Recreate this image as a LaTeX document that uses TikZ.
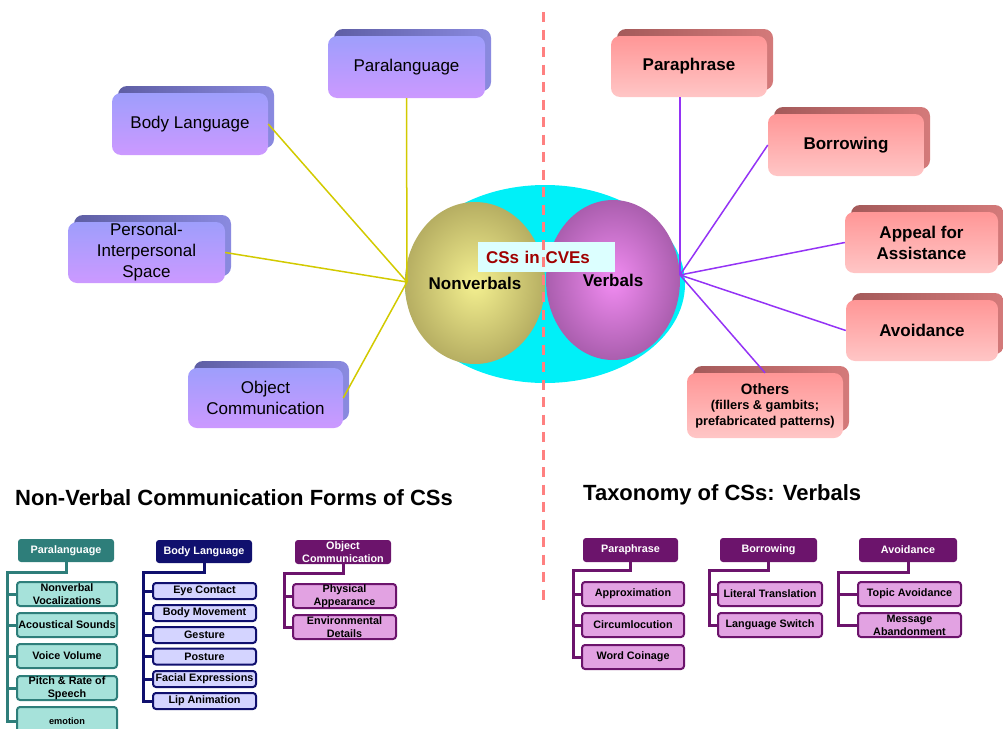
\documentclass[tikz,border=0pt]{standalone}
\usepackage{fontspec}
\setmainfont{Liberation Sans}
\usetikzlibrary{shapes.geometric}
\definecolor{lTop}{HTML}{9E9EFC}
\definecolor{lBot}{HTML}{CC99FF}
\definecolor{lDark}{HTML}{5E5EA4}
\definecolor{lSide}{HTML}{8A8AE0}
\definecolor{rTop}{HTML}{FF9696}
\definecolor{rBot}{HTML}{FFC6C6}
\definecolor{rDark}{HTML}{A45A5A}
\definecolor{rSide}{HTML}{D47A7A}
\definecolor{lLine}{HTML}{D2CA00}
\definecolor{rLine}{HTML}{9433F5}
\definecolor{cveC}{HTML}{00F0F8}
\definecolor{oliveIn}{HTML}{F4F090}
\definecolor{oliveOut}{HTML}{B6AE62}
\definecolor{plumIn}{HTML}{F28CF2}
\definecolor{plumOut}{HTML}{AA5EAE}
\definecolor{tealH}{HTML}{2E7E7A}
\definecolor{tealC}{HTML}{A6E2DA}
\definecolor{navyH}{HTML}{10106E}
\definecolor{navyC}{HTML}{D4D4FF}
\definecolor{plumH}{HTML}{6C146C}
\definecolor{plumC}{HTML}{E2A2E2}
\definecolor{dashC}{HTML}{FF8080}
\definecolor{capC}{HTML}{A00000}
\definecolor{capF}{HTML}{DCFFFF}
\tikzset{
  lback/.style={rounded corners=9pt, left color=lDark, right color=lSide, xshift=6pt, yshift=7pt},
  lfront/.style={rounded corners=9pt, top color=lTop, bottom color=lBot, align=center, inner sep=0pt,
    font=\fontsize{17}{21}\selectfont},
  rback/.style={rounded corners=9pt, left color=rDark, right color=rSide, xshift=6pt, yshift=7pt},
  rfront/.style={rounded corners=9pt, top color=rTop, bottom color=rBot, align=center, inner sep=0pt,
    font=\bfseries\fontsize{17}{21}\selectfont},
  hdr/.style={fill=#1, text=white, rounded corners=3pt, minimum width=96pt, minimum height=23pt,
    inner sep=0pt, align=center, font=\bfseries\fontsize{10.8}{12.5}\selectfont},
  kid/.style 2 args={fill=#1, draw=#2, line width=2pt, rounded corners=3pt, inner sep=0pt, align=center,
    font=\bfseries\fontsize{10.8}{13}\selectfont},
  trunk/.style={draw=#1, line width=3pt},
  headline/.style={anchor=west, inner sep=0pt, font=\bfseries\fontsize{22}{24}\selectfont}
}
\begin{document}
\begin{tikzpicture}[x=1pt,y=-1pt]
  \useasboundingbox (0,0) rectangle (1003,728);
  % centre
  \node[ellipse, fill=cveC, minimum width=280pt, minimum height=198pt] (cve) at (545,284) {};
  \node[ellipse, inner color=oliveIn, outer color=oliveOut,
    minimum width=136pt, minimum height=162pt, font=\bfseries\fontsize{17}{19}\selectfont] (nonverb) at (475,283) {Nonverbals};
  \node[ellipse, inner color=plumIn, outer color=plumOut,
    minimum width=134pt, minimum height=160pt, font=\bfseries\fontsize{17}{19}\selectfont] (verb) at (613,280) {Verbals};
  \node[fill=capF, text=capC, minimum height=30pt, inner xsep=8pt, text width=121pt, align=left,
    font=\bfseries\fontsize{17}{19}\selectfont] (csbox) at (546.5,257) {CSs in CVEs};
  \draw[dashC, line width=3pt, dash pattern=on 10pt off 7.5pt] (543.5,12) -- (543.5,605);
  % nonverbal boxes
  \foreach \nm/\x/\y/\w/\h/\txt in {lpara/406.5/67/157pt/62pt/Paralanguage,
      lbody/190/124/156pt/62pt/Body Language,
      lspace/146.5/252.5/157pt/61pt/{Personal-\\Interpersonal\\Space},
      lobj/265.5/398/155pt/60pt/{Object\\Communication}} {
    \node[lback, minimum width=\w, minimum height=\h] at (\x,\y) {};
    \node[lfront, minimum width=\w, minimum height=\h] (\nm) at (\x,\y) {\txt};
  }
  % verbal boxes
  \foreach \nm/\x/\y/\w/\h/\txt in {rpara/689/66.5/156pt/61pt/Paraphrase,
      rborr/846/145/156pt/62pt/Borrowing,
      rappeal/921.5/242.5/153pt/61pt/{Appeal for\\Assistance},
      ravoid/922/330.5/152pt/61pt/Avoidance} {
    \node[rback, minimum width=\w, minimum height=\h] at (\x,\y) {};
    \node[rfront, minimum width=\w, minimum height=\h] (\nm) at (\x,\y) {\txt};
  }
  \node[rback, minimum width=156pt, minimum height=65pt] at (765,405.5) {};
  \node[rfront, minimum width=156pt, minimum height=65pt, font=\bfseries\fontsize{12.8}{15.5}\selectfont] (rother) at (765,405.5)
    {{\fontsize{15}{15.5}\selectfont Others}\\(fillers \& gambits;\\prefabricated patterns)};
  % connectors
  \coordinate (lhub) at (407,282);
  \coordinate (rhub) at (680,275);
  \draw[lLine, line width=1.5pt] (lpara.south) -- (lhub);
  \foreach \nm in {lbody,lspace,lobj} \draw[lLine, line width=1.5pt] (\nm.east) -- (lhub);
  \draw[rLine, line width=1.5pt] (rhub |- rpara.south) -- (rhub);
  \foreach \nm in {rborr,rappeal,ravoid} \draw[rLine, line width=1.5pt] (\nm.west) -- (rhub);
  \draw[rLine, line width=1.5pt] (rother.north) -- (rhub);
  % headings
  \node[headline] (nvhead) at (15,498) {Non-Verbal Communication Forms of CSs};
  \node[headline] (vhead) at (583,495) {Taxonomy of CSs: Verbals};
  % paralanguage tree
  \node[hdr=tealH] (tpara) at (66,550.5) {Paralanguage};
  \coordinate (tparaT) at (7,572);
  \foreach \i/\y/\txt in {1/594/{Nonverbal\\Vocalizations}, 2/625/Acoustical Sounds, 3/656/Voice Volume,
      4/688/{Pitch \& Rate of\\Speech}}
    \node[kid={tealC}{tealH}, minimum width=100pt, minimum height=24pt] (tp\i) at (67,\y) {\txt};
  \node[kid={tealC}{tealH}, minimum width=100pt, minimum height=28pt, font=\bfseries\fontsize{9.2}{11}\selectfont] (tp5) at (67,721) {emotion};
  \draw[trunk=tealH] (tpara.south) |- (tparaT) |- (tp5.west);
  \foreach \i in {1,...,4} \draw[trunk=tealH] (tparaT |- tp\i.west) -- (tp\i.west);
  % body language tree
  \node[hdr=navyH] (tbody) at (204,551.5) {Body Language};
  \coordinate (tbodyT) at (143,572);
  \foreach \i/\y/\txt in {1/591/Eye Contact, 2/613/Body Movement, 3/635/Gesture, 4/656.5/Posture,
      5/679/Facial Expressions, 6/701/Lip Animation}
    \node[kid={navyC}{navyH}, minimum width=103pt, minimum height=16pt] (tb\i) at (204.5,\y) {\txt};
  \draw[trunk=navyH] (tbody.south) |- (tbodyT) |- (tb6.west);
  \foreach \i in {1,...,5} \draw[trunk=navyH] (tbodyT |- tb\i.west) -- (tb\i.west);
  % object communication tree
  \node[hdr=plumH, minimum height=24pt] (tobj) at (343,552) {Object\\Communication};
  \coordinate (tobjT) at (284,573);
  \foreach \i/\y/\txt in {1/596/{Physical\\Appearance}, 2/627/{Environmental\\Details}}
    \node[kid={plumC}{plumH}, minimum width=103pt, minimum height=24pt] (to\i) at (344.5,\y) {\txt};
  \draw[trunk=plumH] (tobj.south) |- (tobjT) |- (to2.west);
  \draw[trunk=plumH] (tobjT |- to1.west) -- (to1.west);
  % paraphrase tree
  \node[hdr=plumH, minimum width=95pt, minimum height=24pt] (tphr) at (630.5,550) {Paraphrase};
  \coordinate (tphrT) at (573,570);
  \foreach \i/\y/\txt in {1/594/Approximation, 2/625/Circumlocution, 3/657/Word Coinage}
    \node[kid={plumC}{plumH}, minimum width=102pt, minimum height=24pt] (tv\i) at (633,\y) {\txt};
  \draw[trunk=plumH] (tphr.south) |- (tphrT) |- (tv3.west);
  \foreach \i in {1,2} \draw[trunk=plumH] (tphrT |- tv\i.west) -- (tv\i.west);
  % borrowing tree
  \node[hdr=plumH, minimum width=97pt, minimum height=24pt] (tborr) at (768.5,550) {Borrowing};
  \coordinate (tborrT) at (709,570);
  \foreach \i/\y/\txt in {1/594/Literal Translation, 2/625/Language Switch}
    \node[kid={plumC}{plumH}, minimum width=104pt, minimum height=24pt] (tw\i) at (770,\y) {\txt};
  \draw[trunk=plumH] (tborr.south) |- (tborrT) |- (tw2.west);
  \draw[trunk=plumH] (tborrT |- tw1.west) -- (tw1.west);
  % avoidance tree
  \node[hdr=plumH, minimum width=98pt, minimum height=24pt] (tavoid) at (908,550) {Avoidance};
  \coordinate (tavoidT) at (838,572);
  \foreach \i/\y/\txt in {1/594/Topic Avoidance, 2/625/{Message\\Abandonment}}
    \node[kid={plumC}{plumH}, minimum width=103pt, minimum height=24pt] (ta\i) at (909.5,\y) {\txt};
  \draw[trunk=plumH] (tavoid.south) |- (tavoidT) |- (ta2.west);
  \draw[trunk=plumH] (tavoidT |- ta1.west) -- (ta1.west);
\end{tikzpicture}
\end{document}
